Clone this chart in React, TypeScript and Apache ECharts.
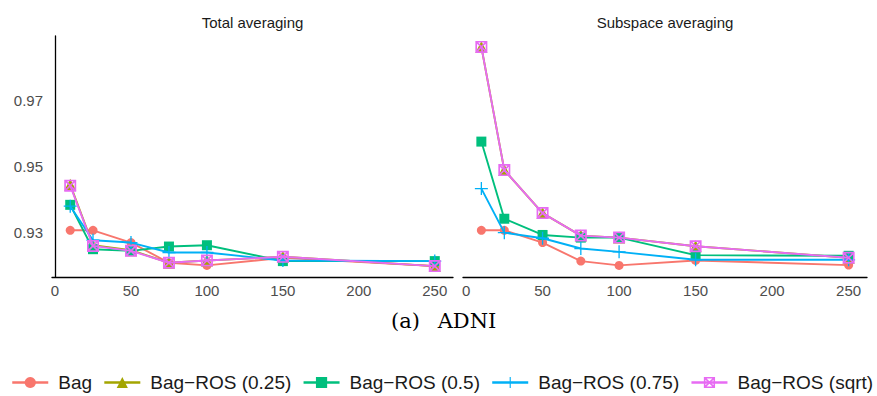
import React, { useEffect, useRef } from "react";
import * as echarts from "echarts";

// ---- data ----
const xValues = [10, 25, 50, 75, 100, 150, 250];
const seriesNames = ["Bag", "Bag−ROS (0.25)", "Bag−ROS (0.5)", "Bag−ROS (0.75)", "Bag−ROS (sqrt)"];
const panelTitles = ["Total averaging", "Subspace averaging"];
const yTicks = [0.93, 0.95, 0.97];
const xTicks = [0, 50, 100, 150, 200, 250];

// Total averaging
const bagTotal = [0.9307, 0.9307, 0.927, 0.9209, 0.9201, 0.9224, 0.9199];
const ros25Total = [0.9445, 0.9262, 0.9247, 0.9209, 0.9216, 0.9227, 0.9199];
const ros50Total = [0.9384, 0.925, 0.9245, 0.9258, 0.9262, 0.9214, 0.9214];
const ros75Total = [0.938, 0.9277, 0.927, 0.924, 0.924, 0.9216, 0.9214];
const rosSqrtTotal = [0.9442, 0.926, 0.9245, 0.9209, 0.9216, 0.9227, 0.9199];

// Subspace averaging
const bagSub = [0.9307, 0.9307, 0.927, 0.9214, 0.9201, 0.9216, 0.9202];
const ros25Sub = [0.9861, 0.9489, 0.9359, 0.9291, 0.9285, 0.9259, 0.9224];
const ros50Sub = [0.9575, 0.9342, 0.9293, 0.9285, 0.9285, 0.9232, 0.923];
const ros75Sub = [0.9433, 0.93, 0.9283, 0.9252, 0.9242, 0.9218, 0.9218];
const rosSqrtSub = [0.9861, 0.9489, 0.9359, 0.9291, 0.9285, 0.9259, 0.9224];

const captionParts = ["(a)", "ADNI"];

const colors = ["#F8766D", "#A3A500", "#00BF7D", "#00B0F6", "#E76BF3"];
const PLUS = "path://M4.5,0 L5.5,0 L5.5,4.5 L10,4.5 L10,5.5 L5.5,5.5 L5.5,10 L4.5,10 L4.5,5.5 L0,5.5 L0,4.5 L4.5,4.5 Z";
const BOXX =
  "path://M0,0 L10,0 L10,10 L0,10 Z M1.4,1.4 L1.4,8.6 L8.6,8.6 L8.6,1.4 Z M1,2 L2,1 L9,8 L8,9 Z M8,1 L9,2 L2,9 L1,8 Z";
const symbols = ["circle", "triangle", "rect", PLUS, BOXX];
const symbolSizes = [9, 12, 10, 13, 12];

const FONT = "'Liberation Sans', Arial, Helvetica, sans-serif";
const Y_MIN = 0.9166;
const Y_MAX = 0.9894;

export default function App() {
  const ref = useRef<HTMLDivElement>(null);
  useEffect(() => {
    if (!ref.current) return;
    const chart = echarts.init(ref.current, null, { renderer: "svg" });
    const panels = [
      [bagTotal, ros25Total, ros50Total, ros75Total, rosSqrtTotal],
      [bagSub, ros25Sub, ros50Sub, ros75Sub, rosSqrtSub],
    ];
    const series: any[] = [];
    panels.forEach((pdata, pi) => {
      pdata.forEach((vals, si) => {
        series.push({
          type: "line",
          name: seriesNames[si],
          xAxisIndex: pi,
          yAxisIndex: pi,
          data: xValues.map((x, i) => [x, vals[i]]),
          symbol: symbols[si],
          symbolSize: symbolSizes[si],
          showAllSymbol: true,
          color: colors[si],
          itemStyle: { color: colors[si] },
          lineStyle: { color: colors[si], width: 1.9 },
          emphasis: { disabled: true },
          z: 2 + si,
        });
      });
    });
    const xAxisBase = (gi: number) => ({
      type: "value",
      gridIndex: gi,
      min: -2,
      max: 262,
      axisLine: { show: true, lineStyle: { color: "#000", width: 1.3 } },
      axisTick: { show: false },
      splitLine: { show: false },
      axisLabel: {
        customValues: xTicks,
        color: "#4d4d4d",
        fontSize: 15,
        fontFamily: FONT,
        margin: 6,
      },
    });
    const option: any = {
      animation: false,
      grid: [
        { left: 52, top: 36, width: 401, height: 241 },
        { left: 463, top: 36, width: 404, height: 241 },
      ],
      xAxis: [xAxisBase(0), xAxisBase(1)],
      yAxis: [
        {
          type: "value",
          gridIndex: 0,
          min: Y_MIN,
          max: Y_MAX,
          axisLine: { show: true, lineStyle: { color: "#000", width: 1.3 } },
          axisTick: { show: false },
          splitLine: { show: false },
          axisLabel: {
            customValues: yTicks,
            formatter: (v: number) => v.toFixed(2),
            color: "#4d4d4d",
            fontSize: 15,
            fontFamily: FONT,
            margin: 9,
          },
        },
        {
          type: "value",
          gridIndex: 1,
          min: Y_MIN,
          max: Y_MAX,
          show: false,
          splitLine: { show: false },
        },
      ],
      legend: {
        data: seriesNames,
        left: 11,
        top: 373,
        width: 870,
        padding: 0,
        itemWidth: 36,
        itemHeight: 14,
        itemGap: 11,
        lineStyle: { width: 2.5 },
        textStyle: { fontSize: 19, color: "#1a1a1a", fontFamily: FONT, padding: [0, 0, 0, 5] },
      },
      graphic: [
        {
          type: "text",
          x: 252.5,
          y: 22,
          style: { text: panelTitles[0], fontSize: 15, fontFamily: FONT, fill: "#1a1a1a", align: "center", verticalAlign: "middle" },
        },
        {
          type: "text",
          x: 665,
          y: 22,
          style: { text: panelTitles[1], fontSize: 15, fontFamily: FONT, fill: "#1a1a1a", align: "center", verticalAlign: "middle" },
        },
        {
          type: "text",
          x: 405.5,
          y: 321,
          style: { text: captionParts[0], fontSize: 21, fontFamily: "'DejaVu Serif', serif", fill: "#000", align: "center", verticalAlign: "middle" },
        },
        {
          type: "text",
          x: 467,
          y: 321,
          style: { text: captionParts[1], fontSize: 21, fontFamily: "'DejaVu Serif', serif", fill: "#000", align: "center", verticalAlign: "middle" },
        },
      ],
      series,
    };
    chart.setOption(option);
    return () => chart.dispose();
  }, []);
  return <div ref={ref} style={{ position: "absolute", left: 0, top: 0, width: 877, height: 396 }} />;
}
